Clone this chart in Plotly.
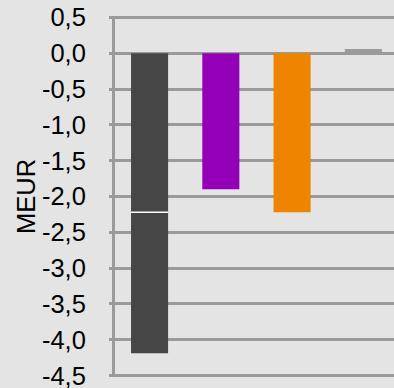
import plotly.graph_objects as go

# Category slots along the x axis (no labels are shown)
categories = ["K1", "K2", "K3", "K4"]

# Values in MEUR
first_part = [-2.22, None, None, None]    # upper part of the stacked first bar
second_part = [-1.97, None, None, None]   # lower part of the stacked first bar
purple_vals = [None, -1.90, None, None]
orange_vals = [None, None, -2.22, None]
gray_vals = [None, None, None, 0.06]

tick_vals = [0.5, 0.0, -0.5, -1.0, -1.5, -2.0, -2.5, -3.0, -3.5, -4.0, -4.5]
tick_text = ["0,5", "0,0", "-0,5", "-1,0", "-1,5", "-2,0", "-2,5", "-3,0", "-3,5", "-4,0", "-4,5"]

BAR_W = 0.52
DARK = "#464646"
GRID = "#9a9a9a"
BG = "#e4e4e4"

fig = go.Figure()
for vals, color in [
    (first_part, DARK),
    (second_part, DARK),
    (purple_vals, "#9400b8"),
    (orange_vals, "#ee8400"),
    (gray_vals, "#9a9a9a"),
]:
    fig.add_trace(go.Bar(
        x=categories, y=vals, width=BAR_W,
        marker=dict(color=color, line=dict(width=0)),
        showlegend=False, hoverinfo="skip",
    ))

# Thin white separator between the two stacked parts of the first bar
fig.add_shape(
    type="line", xref="x", yref="y",
    x0=-BAR_W / 2, x1=BAR_W / 2, y0=first_part[0], y1=first_part[0],
    line=dict(color="white", width=1.5),
)

fig.update_layout(
    width=394, height=388,
    barmode="relative",
    paper_bgcolor=BG, plot_bgcolor=BG,
    margin=dict(l=115, r=0, t=16, b=11),
    font=dict(family="Liberation Sans, Arial, sans-serif", color="#000000", size=25.5),
    xaxis=dict(
        type="category", range=[-0.485, 3.43],
        showticklabels=False, showgrid=False, zeroline=False,
        showline=False, ticks="",
    ),
    yaxis=dict(
        range=[-4.52, 0.52],
        tickvals=tick_vals, ticktext=tick_text,
        showgrid=True, gridcolor=GRID, gridwidth=3,
        zeroline=False,
        showline=True, linecolor=GRID, linewidth=3,
        ticks="outside", ticklen=3, tickwidth=3, tickcolor=GRID,
        ticklabelstandoff=18, ticklabeloverflow="allow",
        title=dict(text="MEUR", standoff=0, font=dict(size=25.5)),
    ),
)

fig.write_html("out.html")
